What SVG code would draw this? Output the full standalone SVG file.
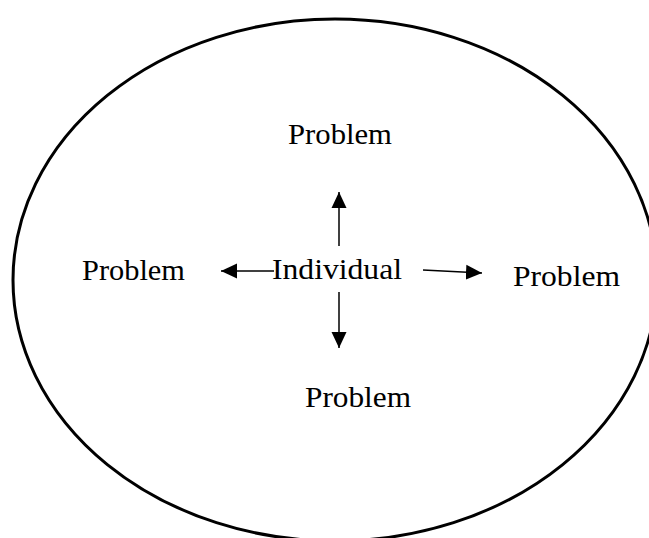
<svg xmlns="http://www.w3.org/2000/svg" width="649" height="538" viewBox="0 0 649 538">
<style>
text{font-family:'Liberation Serif',Tinos,'Times New Roman',Times,serif;font-size:30px;fill:#000}
.c{stroke:#000;stroke-width:1.5;fill:none;marker-end:url(#ah)}
</style>
<defs>
<marker id="ah" markerUnits="userSpaceOnUse" markerWidth="16" markerHeight="16" viewBox="0 0 16 16" refX="16" refY="8" orient="auto">
<path d="M0,0.5 L16,8 L0,15.5 z" fill="#000"/>
</marker>
</defs>
<rect width="649" height="538" fill="#fff"/>
<g id="boundary"><ellipse cx="335" cy="280" rx="322" ry="261" fill="none" stroke="#000" stroke-width="3"/></g>
<g id="connectors">
<line class="c" x1="339" y1="246" x2="339" y2="192"/>
<line class="c" x1="339" y1="292" x2="339" y2="348"/>
<line class="c" x1="274" y1="271" x2="221" y2="271"/>
<line class="c" x1="423" y1="270" x2="482" y2="273"/>
</g>
<g id="individual"><text font-family="Liberation Serif, serif" x="272" y="279" textLength="130" lengthAdjust="spacingAndGlyphs">Individual</text></g>
<g id="problem-top"><text font-family="Liberation Serif, serif" x="288" y="144" textLength="104" lengthAdjust="spacingAndGlyphs">Problem</text></g>
<g id="problem-left"><text font-family="Liberation Serif, serif" x="82" y="280" textLength="103" lengthAdjust="spacingAndGlyphs">Problem</text></g>
<g id="problem-right"><text font-family="Liberation Serif, serif" x="513" y="286" textLength="107" lengthAdjust="spacingAndGlyphs">Problem</text></g>
<g id="problem-bottom"><text font-family="Liberation Serif, serif" x="305" y="407" textLength="106" lengthAdjust="spacingAndGlyphs">Problem</text></g>
</svg>
